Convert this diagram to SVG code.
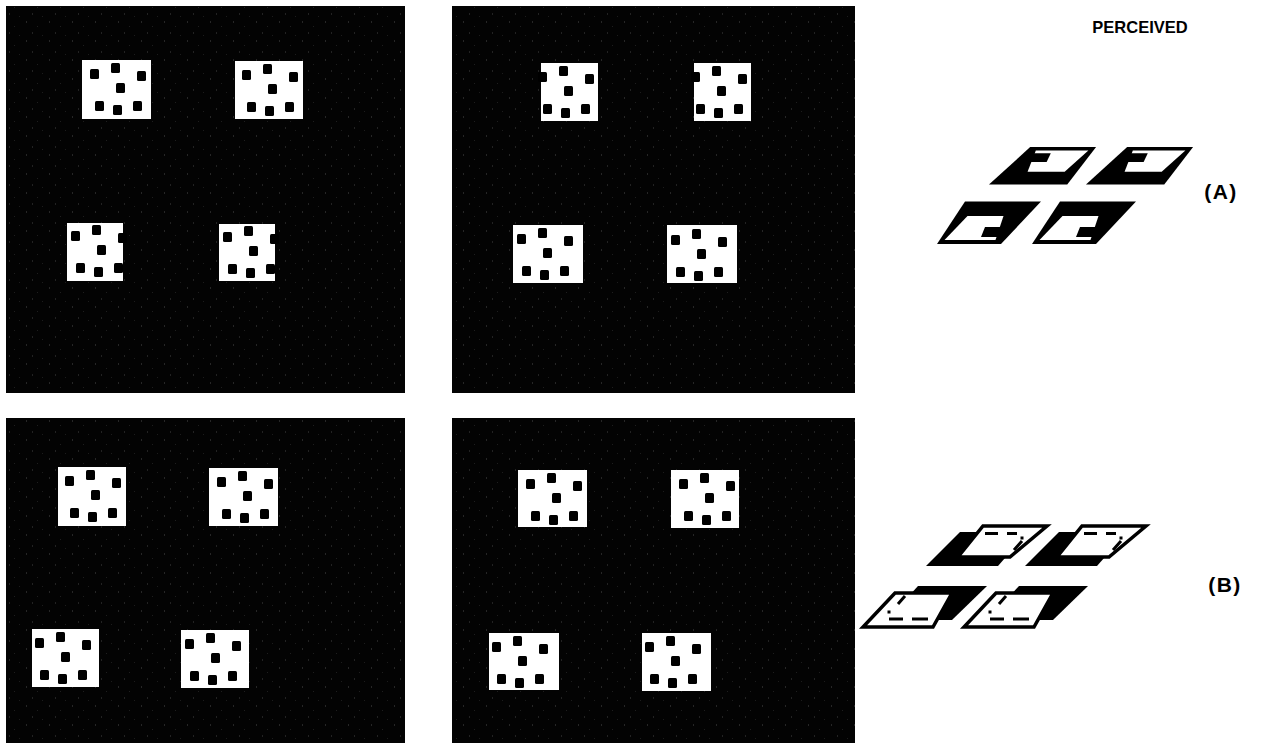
<svg xmlns="http://www.w3.org/2000/svg" width="1274" height="743" viewBox="0 0 1274 743">
<style>
.panel{fill:#030303}
.noise{fill:url(#speck)}
.sq{fill:#ffffff}
.blk{fill:#000000}
.wh{fill:#ffffff}
.wo{fill:#ffffff;stroke:#000000;stroke-width:3.5;stroke-linejoin:miter}
.dsh{fill:none;stroke:#000000;stroke-width:3}
.lbl{font-family:"Liberation Sans",Arial,sans-serif;font-weight:bold;fill:#000000}
</style>
<defs>
<pattern id="speck" width="23" height="19" patternUnits="userSpaceOnUse">
<rect x="3" y="2" width="1" height="2" fill="#262626"/>
<rect x="14" y="7" width="1" height="1" fill="#1e1e1e"/>
<rect x="9" y="13" width="1" height="2" fill="#222222"/>
<rect x="19" y="16" width="1" height="1" fill="#1c1c1c"/>
</pattern>
<g id="dots">
<rect x="8" y="9" width="9" height="10" rx="1.5"/>
<rect x="29" y="3" width="9" height="10" rx="1.5"/>
<rect x="55" y="11" width="9" height="10" rx="1.5"/>
<rect x="34" y="23" width="9" height="10" rx="1.5"/>
<rect x="13" y="41" width="9" height="10" rx="1.5"/>
<rect x="31" y="45" width="9" height="10" rx="1.5"/>
<rect x="51" y="41" width="9" height="10" rx="1.5"/>
</g>
<g id="shapeA">
<polygon class="blk" points="937,244 965,201.5 1041,201.5 1001,244"/>
<polygon class="wh" points="944.5,240 967.5,216 1003.5,216 995.5,240"/>
<polygon class="blk" points="985,227 1004,227 1001,237 981,237"/>
</g>
<g id="shapeB1">
<polygon class="blk" points="960,532 1028,532 998,566 926,566"/>
<polygon class="wo" points="983,526 1047,526 1010,557 958,557"/>
<path class="dsh" d="M985,533.5 H998 M1007,533.5 H1017 M1014,550 L1022,541"/>
<rect x="1020.5" y="536.5" width="3" height="3"/>
</g>
<g id="shapeB3">
<polygon class="blk" points="918,586 987,586 952,620 887,620"/>
<polygon class="wo" points="895,593 952,593 933,627 863,627"/>
<path class="dsh" d="M889,619 H903 M912,619 H928 M898,604 L905,596"/>
<rect x="887.5" y="610.5" width="3" height="3"/>
</g>
</defs>
<rect width="1274" height="743" fill="#ffffff"/>
<g id="panel-top-left">
<rect class="panel" x="6" y="6" width="399" height="387"/>
<rect class="noise" x="6" y="6" width="399" height="387"/>
<rect class="sq" x="82" y="60" width="69" height="59"/><use href="#dots" x="82" y="60"/>
<rect class="sq" x="235" y="61" width="68" height="58"/><use href="#dots" x="234" y="61"/>
<rect class="sq" x="67" y="223" width="56" height="58"/><use href="#dots" x="63" y="222"/>
<rect class="sq" x="219" y="224" width="56" height="57"/><use href="#dots" x="215" y="223"/>
</g>
<g id="panel-top-middle">
<rect class="panel" x="452" y="6" width="403" height="387"/>
<rect class="noise" x="452" y="6" width="403" height="387"/>
<rect class="sq" x="541" y="63" width="57" height="58"/><use href="#dots" x="530" y="63"/>
<rect class="sq" x="694" y="63" width="57" height="58"/><use href="#dots" x="683" y="63"/>
<rect class="sq" x="513" y="225" width="70" height="58"/><use href="#dots" x="509" y="225"/>
<rect class="sq" x="667" y="225" width="70" height="58"/><use href="#dots" x="663" y="226"/>
</g>
<g id="panel-bottom-left">
<rect class="panel" x="6" y="418" width="399" height="325"/>
<rect class="noise" x="6" y="418" width="399" height="325"/>
<rect class="sq" x="58" y="467" width="68" height="59"/><use href="#dots" x="57" y="467"/>
<rect class="sq" x="209" y="468" width="69" height="58"/><use href="#dots" x="209" y="468"/>
<rect class="sq" x="32" y="629" width="67" height="58"/><use href="#dots" x="27" y="629"/>
<rect class="sq" x="181" y="630" width="68" height="58"/><use href="#dots" x="177" y="630"/>
</g>
<g id="panel-bottom-middle">
<rect class="panel" x="452" y="418" width="403" height="325"/>
<rect class="noise" x="452" y="418" width="403" height="325"/>
<rect class="sq" x="518" y="470" width="69" height="57"/><use href="#dots" x="518" y="470"/>
<rect class="sq" x="671" y="470" width="68" height="58"/><use href="#dots" x="671" y="470"/>
<rect class="sq" x="489" y="633" width="70" height="57"/><use href="#dots" x="484" y="633"/>
<rect class="sq" x="642" y="633" width="69" height="58"/><use href="#dots" x="637" y="633"/>
</g>
<g id="perceived-label"><text class="lbl" x="1140" y="33" font-size="16.5" text-anchor="middle">PERCEIVED</text></g>
<g id="label-A"><text class="lbl" x="1221" y="199" font-size="21" letter-spacing="1.5" text-anchor="middle">(A)</text></g>
<g id="label-B"><text class="lbl" x="1225" y="592" font-size="21" letter-spacing="1.5" text-anchor="middle">(B)</text></g>
<g id="perceived-A">
<g id="A1"><use href="#shapeA" transform="translate(1041.5,166) scale(-1.03,-0.88) translate(-990,-222.5)"/></g>
<g id="A2"><use href="#shapeA" transform="translate(1138.5,166) scale(-1.03,-0.88) translate(-990,-222.5)"/></g>
<g id="A3"><use href="#shapeA"/></g>
<g id="A4"><use href="#shapeA" x="95"/></g>
</g>
<g id="perceived-B">
<g id="B1"><use href="#shapeB1"/></g>
<g id="B2"><use href="#shapeB1" x="99"/></g>
<g id="B3"><use href="#shapeB3"/></g>
<g id="B4"><use href="#shapeB3" x="101"/></g>
</g>
</svg>
